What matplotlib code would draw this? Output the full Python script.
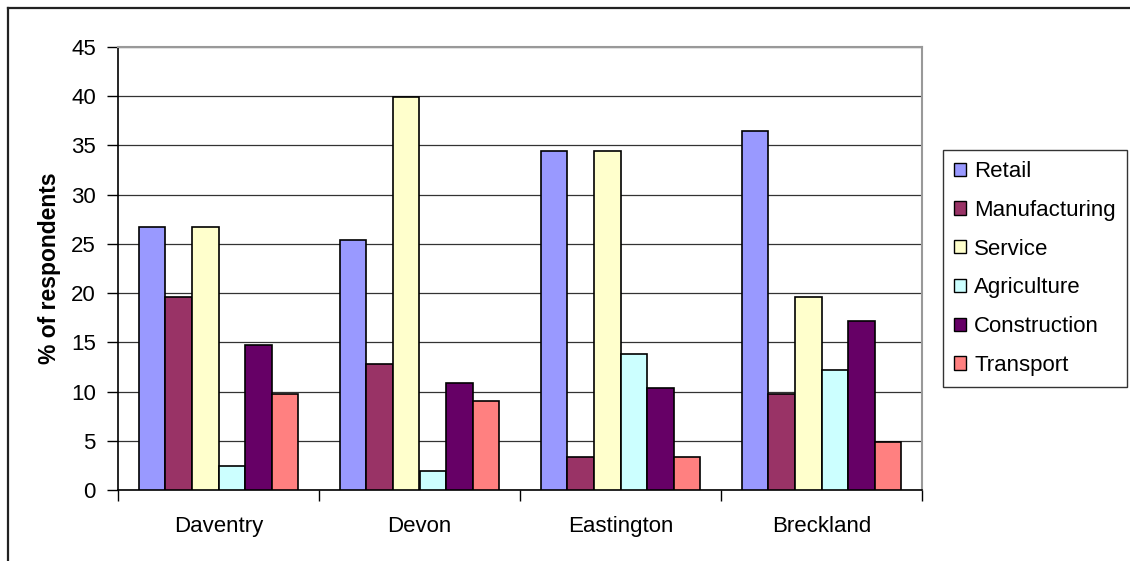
import matplotlib
matplotlib.use("Agg")
import matplotlib.pyplot as plt
import numpy as np
from matplotlib.lines import Line2D

plt.rcParams['font.family'] = ['Liberation Sans', 'DejaVu Sans']

# data
districts = ['Daventry', 'Devon', 'Eastington', 'Breckland']
sectors = ['Retail', 'Manufacturing', 'Service', 'Agriculture', 'Construction', 'Transport']
retail = [26.7, 25.4, 34.4, 36.5]
manufacturing = [19.6, 12.8, 3.4, 9.8]
service = [26.7, 39.9, 34.4, 19.6]
agriculture = [2.4, 1.9, 13.8, 12.2]
construction = [14.7, 10.9, 10.4, 17.2]
transport = [9.8, 9.0, 3.4, 4.9]

series = [retail, manufacturing, service, agriculture, construction, transport]
colors = ['#9999ff', '#993366', '#ffffcc', '#ccffff', '#660066', '#ff8080']

W, H = 1130, 561
FS = 16
fig = plt.figure(figsize=(W / 100, H / 100), dpi=100)
ax = fig.add_axes([118 / W, 1 - 490 / H, (922 - 118) / W, (490 - 47) / H])

x = np.arange(len(districts))
bw = 0.132
for i, (vals, c) in enumerate(zip(series, colors)):
    offs = (i - 2.5) * bw
    ax.bar(x + offs, vals, width=bw, color=c, edgecolor='black', linewidth=1.2,
           label=sectors[i], zorder=3)

ax.set_xlim(-0.5, 3.5)
ax.set_ylim(0, 45)
ax.set_yticks(range(0, 46, 5))
ax.yaxis.grid(True, color='#333333', linewidth=0.9, zorder=0)
ax.set_axisbelow(True)

# category labels centred, ticks at boundaries
ax.set_xticks(x)
ax.set_xticklabels(districts, fontsize=FS)
ax.tick_params(axis='x', length=0, pad=19)
ax.set_xticks(np.arange(-0.5, 4.0, 1.0), minor=True)
ax.tick_params(axis='x', which='minor', length=8, width=1, color='black', direction='out')
ax.tick_params(axis='y', labelsize=FS, length=8, width=1, direction='out', pad=8)

for s in ['left', 'bottom']:
    ax.spines[s].set_color('black')
    ax.spines[s].set_linewidth(1.2)
for s in ['top', 'right']:
    ax.spines[s].set_color('#999999')
    ax.spines[s].set_linewidth(1.5)

ax.set_ylabel('% of respondents', fontsize=16.5, fontweight='bold', labelpad=7)

leg = fig.legend(loc='upper left', bbox_to_anchor=(943 / W, 1 - 150 / H),
                 fontsize=FS, frameon=True, fancybox=False, edgecolor='black',
                 handlelength=0.55, handleheight=0.55, handletextpad=0.35,
                 labelspacing=0.8, borderpad=0.5, borderaxespad=0)
leg.get_frame().set_linewidth(1.0)
for h in leg.legend_handles:
    h.set_linewidth(1.0)

# outer chart-area border (left and top edges visible)
fig.add_artist(Line2D([7.5 / W, 7.5 / W], [0, 1 - 7.5 / H], color='#222222', linewidth=1.6))
fig.add_artist(Line2D([7.5 / W, 1], [1 - 7.5 / H, 1 - 7.5 / H], color='#222222', linewidth=1.6))

fig.savefig('out.png', dpi=100)
